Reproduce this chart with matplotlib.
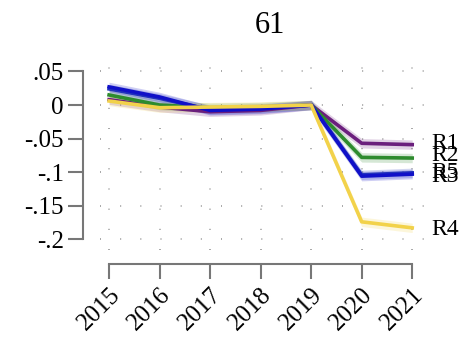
import matplotlib.pyplot as plt
import numpy as np

plt.rcParams['font.family'] = ['Liberation Serif', 'DejaVu Serif']

years = [2015, 2016, 2017, 2018, 2019, 2020, 2021]
r1 = [0.008, -0.003, -0.010, -0.008, 0.0, -0.057, -0.059]
r2 = [0.015, 0.000, -0.004, -0.003, 0.0, -0.078, -0.079]
r3 = [0.027, 0.012, -0.008, -0.006, 0.0, -0.106, -0.103]
r5 = [0.024, 0.010, -0.007, -0.005, 0.0, -0.104, -0.101]
r4 = [0.006, -0.004, -0.003, -0.002, 0.0, -0.174, -0.183]

series = [
    ("R1", r1, "#6b1f7d"),
    ("R2", r2, "#2e8b2e"),
    ("R5", r5, "#2233bb"),
    ("R3", r3, "#1010c8"),
    ("R4", r4, "#f2d24a"),
]
label_y = {"R1": -0.057, "R2": -0.075, "R3": -0.106, "R5": -0.100, "R4": -0.185}
yticks = [0.05, 0, -0.05, -0.1, -0.15, -0.2]
ytick_labels = [".05", "0", "-.05", "-.1", "-.15", "-.2"]

fig = plt.figure(figsize=(4.59, 3.44), dpi=100)
ax = fig.add_axes([100 / 459, 1 - 250 / 344, 340 / 459, 200 / 344])

# axis lines set first: moving spines rebuilds the ticks
for s in ["top", "right"]:
    ax.spines[s].set_visible(False)
ax.spines["left"].set_position(("outward", 12))
ax.spines["bottom"].set_position(("outward", 10))
ax.spines["left"].set_bounds(-0.2, 0.05)
ax.spines["bottom"].set_bounds(2015, 2021)
for s in ["left", "bottom"]:
    ax.spines[s].set_color("#777777")
    ax.spines[s].set_linewidth(1.5)

for name, vals, col in series:
    v = np.array(vals)
    ax.fill_between(years, v - 0.007, v + 0.007, color=col, alpha=0.2, lw=0)
    ax.plot(years, v, color=col, lw=2.6)
    ax.text(2021.37, label_y[name], name, fontsize=17, va="center", ha="left",
            clip_on=False)

ax.set_xlim(2014.82, 2021.55)
ax.set_ylim(-0.216, 0.082)

# dotted grid in both directions
ax.grid(True, color="#999999", linestyle=(0, (0.6, 11.5)), linewidth=1.2)
ax.set_axisbelow(True)

ax.set_yticks(yticks)
ax.set_yticklabels(ytick_labels, fontsize=18)
ax.set_xticks(years)
ax.set_xticklabels([str(y) for y in years], fontsize=18, rotation=45,
                   ha="right", rotation_mode="anchor")
ax.tick_params(axis="both", length=11, width=1.5, color="#777777", pad=3)

ax.set_title("61", fontsize=22, pad=12)

fig.savefig("out.png", dpi=100)
